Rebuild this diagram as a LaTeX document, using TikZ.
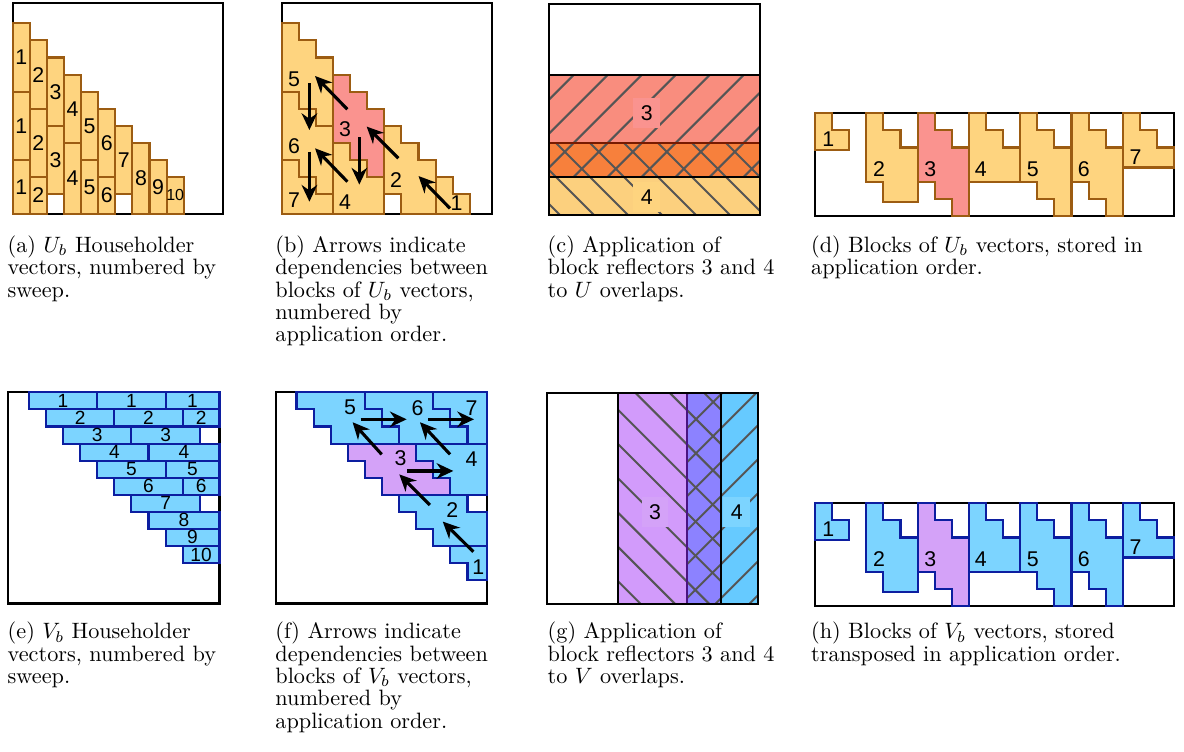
\documentclass[tikz,border=0pt]{standalone}
\usepackage{fontspec}
\newfontfamily\numfont{Liberation Sans}
\usepackage{amsmath, amssymb}
\usetikzlibrary{arrows.meta, positioning, calc}
\definecolor{orange2}{RGB}{254,212,127}
\definecolor{brown1}{RGB}{156,92,18}
\definecolor{salmon1}{RGB}{250,147,143}
\definecolor{sky1}{RGB}{124,212,255}
\definecolor{navy1}{RGB}{12,30,160}
\definecolor{violet1}{RGB}{212,162,248}
\definecolor{band3u}{RGB}{249,141,126}
\definecolor{band34u}{RGB}{247,128,60}
\definecolor{band4u}{RGB}{252,208,126}
\definecolor{maroon1}{RGB}{120,26,0}
\definecolor{band3v}{RGB}{210,155,251}
\definecolor{band34v}{RGB}{140,130,255}
\definecolor{band4v}{RGB}{102,202,255}
\definecolor{plum1}{RGB}{75,20,130}
\definecolor{hatch1}{RGB}{85,85,85}
\tikzset{
  frame/.style={draw=black, line width=0.95pt},
  ublk/.style={draw=brown1, fill=orange2, line width=0.95pt},
  vblk/.style={draw=navy1, fill=sky1, line width=0.95pt},
  num/.style={font=\numfont\fontsize{9.6}{10}\selectfont, inner sep=0pt},
  rownum/.style={num, font=\numfont\fontsize{8.6}{9}\selectfont},
  numbox/.style={num, inner sep=3.4pt},
  dep/.style={-{Stealth[length=7.5pt, width=7pt]}, line width=1.4pt},
  hatchline/.style={draw=hatch1, line width=0.9pt},
  capt/.style={anchor=north west, align=left, inner sep=0pt, font=\fontsize{10}{10.05}\selectfont}
}

\begin{document}
\begin{tikzpicture}[x=0.45pt, y=-0.45pt]
  \useasboundingbox (0,0) rectangle (1184,751);

  \begin{scope}[shift={(12.7,3.3)}, x=7.695pt, y=-7.695pt]
    \draw[frame] (0,0) rectangle (12.3,12.3);
    \foreach \k/\n in {1/3,2/3,3/2,4/2,5/2,6/2,7/1,8/1,9/1,10/1}
      \foreach \i in {1,...,\n} {
        \pgfmathsetmacro\tp{\k+0.17+4*(\i-1)}
        \pgfmathsetmacro\bt{\tp+4>12 ? 12.3 : \tp+4}
        \pgfmathsetmacro\fsz{\k==10 ? 7.2 : 9.6}
        \draw[ublk] (\k-1,\tp) rectangle (\k,\bt);
        \node[num, font=\numfont\fontsize{\fsz}{\fsz}\selectfont] (a\k-\i) at (\k-0.5,{(\tp+\bt)/2}) {\k};
      }
  \end{scope}

  \begin{scope}[shift={(281.7,3.3)}, x=7.695pt, y=-7.695pt]
    \draw[frame] (0,0) rectangle (12.3,12.3);
    \foreach \a/\t/\cl in {0/1.17/orange2, 0/5.17/orange2, 3/4.17/salmon1}
      \draw[ublk, fill=\cl] (\a,\t) -- (\a+1,\t) |- (\a+2,\t+1) |- (\a+3,\t+2) -- (\a+3,\t+6) -- (\a+2,\t+6) |- (\a+1,\t+5) |- (\a,\t+4) -- cycle;
    \draw[ublk] (0,9.17) -- (1,9.17) |- (2,10.17) |- (3,11.17) -- (3,12.3) -- (0,12.3) -- cycle;
    \draw[ublk] (3,8.17) -- (4,8.17) |- (5,9.17) |- (6,10.17) -- (6,12.3) -- (3,12.3) -- cycle;
    \draw[ublk] (6,7.17) -- (7,7.17) |- (8,8.17) |- (9,9.17) -- (9,12.3) -- (7,12.3) -- (7,11.17) -- (6,11.17) -- cycle;
    \draw[ublk] (9,10.17) -- (10,10.17) |- (11,11.17) -- (11,12.3) -- (9,12.3) -- cycle;
    \foreach \n/\px/\py in {5/0.72/4.44, 6/0.72/8.38, 7/0.72/11.5, 3/3.70/7.37, 4/3.70/11.6, 2/6.69/10.33, 1/10.23/11.7}
      \node[num] (b\n) at (\px,\py) {\n};
    \foreach \nm/\xa/\ya/\xb/\yb in {35/3.84/6.2/1.95/4.25, 56/1.62/4.68/1.62/7.41, 67/1.62/8.67/1.62/11.6, 46/3.84/10.43/1.95/8.48, 34/4.54/7.84/4.54/10.6, 23/6.82/9.06/4.97/7.21, 12/9.84/11.99/8.0/10.1} {
      \coordinate (b\nm-s) at (\xa,\ya);
      \coordinate (b\nm-e) at (\xb,\yb);
      \draw[dep] (b\nm-s) -- (b\nm-e);
    }
  \end{scope}

  \fill[band3u] (549,75.3) rectangle (760,177.3);
  \fill[band34u] (549,143.3) rectangle (760,177.3);
  \fill[band4u] (549,177.3) rectangle (760,215);
  \begin{scope}
    \clip (549,75.3) rectangle (760,177.3);
    \foreach \c in {614.6,648.6,...,960} \draw[hatchline] ({\c-70},70) -- ({\c-180},180);
  \end{scope}
  \begin{scope}
    \clip (549,143.3) rectangle (760,215);
    \foreach \c in {311,345,...,630} \draw[hatchline] ({\c+140},140) -- ({\c+220},220);
  \end{scope}
  \draw[frame] (549,75.3) -- (760,75.3);
  \draw[frame] (549,177.3) -- (760,177.3);
  \draw[draw=maroon1, line width=0.95pt] (549,143.3) -- (760,143.3);
  \draw[frame] (549,4) rectangle (760,215);
  \node[numbox, fill=salmon1] (c3) at (646.7,113.3) {3};
  \node[numbox, fill=orange2] (c4) at (646.7,196.7) {4};

  \foreach \pn/\yo/\bstyle/\hcol in {d/113.3/ublk/salmon1, h/503.3/vblk/violet1} {
    \begin{scope}[shift={(815,\yo)}, x=7.695pt, y=-7.695pt]
      \draw[frame] (0,0) rectangle (21,6);
      \draw[\bstyle] (0,0) -- (1,0) |- (2,1) -- (2,2.17) -- (0,2.17) -- cycle;
      \draw[\bstyle] (3,0) -- (4,0) |- (5,1) |- (6,2) -- (6,5.17) -- (4,5.17) |- (3,4) -- cycle;
      \draw[\bstyle, fill=\hcol] (6,0) -- (7,0) |- (8,1) |- (9,2) -- (9,6) -- (8,6) |- (7,5) |- (6,4) -- cycle;
      \draw[\bstyle] (9,0) -- (10,0) |- (11,1) |- (12,2) -- (12,4) -- (9,4) -- cycle;
      \foreach \a in {12,15}
        \draw[\bstyle] (\a,0) -- (\a+1,0) |- (\a+2,1) |- (\a+3,2) -- (\a+3,6) -- (\a+2,6) |- (\a+1,5) |- (\a,4) -- cycle;
      \draw[\bstyle] (18,0) -- (19,0) |- (20,1) |- (21,2) -- (21,3.17) -- (18,3.17) -- cycle;
      \foreach \n/\px/\py in {1/0.78/1.52, 2/3.75/3.26, 3/6.74/3.26, 4/9.7/3.26, 5/12.73/3.26, 6/15.72/3.26, 7/18.75/2.54}
        \node[num] (\pn\n) at (\px,\py) {\n};
    \end{scope}
  }

  \begin{scope}[shift={(8.3,392.3)}, x=7.695pt, y=-7.695pt]
    \draw[frame] (0,0) rectangle (12.35,12.35);
    \foreach \k/\n in {1/3,2/3,3/2,4/2,5/2,6/2,7/1,8/1,9/1,10/1}
      \foreach \i in {1,...,\n} {
        \pgfmathsetmacro\lft{\k+0.2+4*(\i-1)}
        \pgfmathsetmacro\rgt{\lft+4>12 ? 12.35 : \lft+4}
        \draw[vblk] (\lft,\k-1) rectangle (\rgt,\k);
        \node[rownum] (e\k-\i) at ({(\lft+\rgt)/2},\k-0.52) {\k};
      }
  \end{scope}

  \begin{scope}[shift={(276,392.3)}, x=7.695pt, y=-7.695pt]
    \draw[frame] (0,0) rectangle (12.35,12.35);
    \foreach \l/\r/\cl in {1.2/0/sky1, 5.2/0/sky1, 4.2/3/violet1}
      \draw[vblk, fill=\cl] (\l,\r) -- (\l+4,\r) |- (\l+5,\r+1) |- (\l+6,\r+2) |- (\l+2,\r+3) |- (\l+1,\r+2) |- (\l,\r+1) -- cycle;
    \draw[vblk] (9.2,0) -- (12.35,0) -- (12.35,3) -- (11.2,3) |- (10.2,2) |- (9.2,1) -- cycle;
    \draw[vblk] (8.2,3) -- (12.35,3) -- (12.35,6) -- (10.2,6) |- (9.2,5) |- (8.2,4) -- cycle;
    \draw[vblk] (7.2,6) -- (11.2,6) |- (12.35,7) -- (12.35,9) -- (9.2,9) |- (8.2,8) |- (7.2,7) -- cycle;
    \draw[vblk] (10.2,9) -- (12.35,9) -- (12.35,11) -- (11.2,11) |- (10.2,10) -- cycle;
    \foreach \n/\px/\py in {5/4.33/0.9, 6/8.28/0.9, 7/11.44/0.9, 3/7.29/3.86, 4/11.44/3.9, 2/10.31/6.88, 1/11.83/10.2}
      \node[num] (f\n) at (\px,\py) {\n};
    \foreach \nm/\xa/\ya/\xb/\yb in {56/4.95/1.58/7.64/1.58, 67/8.91/1.58/11.58/1.58, 35/6.18/3.63/4.48/1.75, 46/10.18/3.63/8.42/1.75, 34/7.68/4.6/10.37/4.6, 23/9.0/6.59/7.21/4.8, 12/11.54/9.32/9.75/7.56} {
      \coordinate (f\nm-s) at (\xa,\ya);
      \coordinate (f\nm-e) at (\xb,\yb);
      \draw[dep] (f\nm-s) -- (f\nm-e);
    }
  \end{scope}

  \fill[band3v] (618.3,393.3) rectangle (721,604.3);
  \fill[band4v] (686.7,393.3) rectangle (758.3,604.3);
  \fill[band34v] (686.7,393.3) rectangle (721,604.3);
  \begin{scope}
    \clip (618.3,393.3) rectangle (721,604.3);
    \foreach \c in {2.5,36.8,...,350} \draw[hatchline] ({\c+390},390) -- ({\c+610},610);
  \end{scope}
  \begin{scope}
    \clip (686.7,393.3) rectangle (758.3,604.3);
    \foreach \c in {1047.3,1081.3,...,1400} \draw[hatchline] ({\c-390},390) -- ({\c-610},610);
  \end{scope}
  \draw[frame] (618.3,393.3) -- (618.3,604.3);
  \draw[frame] (721,393.3) -- (721,604.3);
  \draw[draw=plum1, line width=0.95pt] (686.7,393.3) -- (686.7,604.3);
  \draw[frame] (547.3,393.3) rectangle (758.3,604.3);
  \node[numbox, fill=violet1] (g3) at (655,512.3) {3};
  \node[numbox, fill=sky1] (g4) at (736.7,512.3) {4};

  \node[capt] (capa) at (7.3,235.3) {(a) $U_b$ Householder\\vectors, numbered by\\sweep.};
  \node[capt] (capb) at (275,235.3) {(b) Arrows indicate\\dependencies between\\blocks of $U_b$ vectors,\\numbered by\\application order.};
  \node[capt] (capc) at (547.3,235.3) {(c) Application of\\block reflectors 3 and 4\\to $U$ overlaps.};
  \node[capt] (capd) at (810.7,235.3) {(d) Blocks of $U_b$ vectors, stored in\\application order.};
  \node[capt] (cape) at (7.3,621.6) {(e) $V_b$ Householder\\vectors, numbered by\\sweep.};
  \node[capt] (capf) at (275,621.6) {(f) Arrows indicate\\dependencies between\\blocks of $V_b$ vectors,\\numbered by\\application order.};
  \node[capt] (capg) at (547.3,621.6) {(g) Application of\\block reflectors 3 and 4\\to $V$ overlaps.};
  \node[capt] (caph) at (810.7,621.6) {(h) Blocks of $V_b$ vectors, stored\\transposed in application order.};
\end{tikzpicture}
\end{document}
